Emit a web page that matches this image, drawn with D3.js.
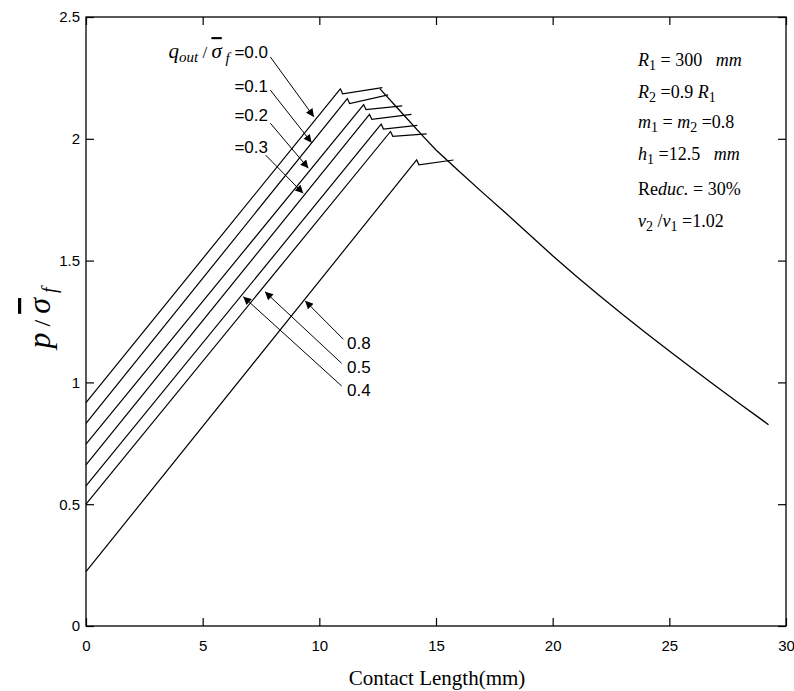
<!DOCTYPE html>
<html><head><meta charset="utf-8">
<script src="https://cdn.jsdelivr.net/npm/d3@7"></script>
<style>
html,body{margin:0;padding:0;background:#fff;}
svg{display:block;}
</style></head>
<body>
<svg id="c" width="794" height="691"></svg>
<script>
// ---- data ----
const qLabels   = ["0.0","0.1","0.2","0.3","0.4","0.5","0.8"];
const startP    = [0.917, 0.832, 0.747, 0.661, 0.575, 0.500, 0.223];
const peakX     = [10.9, 11.2, 11.9, 12.15, 12.65, 13.05, 14.17];
const peakP     = [2.205, 2.165, 2.14, 2.10, 2.06, 2.03, 1.913];
const flatEndX  = [12.7, 12.95, 13.55, 13.95, 14.2, 14.6, 15.75];
const flatEndP  = [2.21, 2.18, 2.135, 2.10, 2.055, 2.02, 1.913];
const descX = [12.6, 13.5, 14.5, 15, 16, 17, 18, 19, 20, 21, 22, 23, 24, 25, 26, 27, 28, 29, 29.25];
const descP = [2.205, 2.11, 2.005, 1.954, 1.866, 1.779, 1.694, 1.607, 1.52, 1.437, 1.357, 1.279, 1.203, 1.129, 1.056, 0.984, 0.913, 0.844, 0.826];
const xTicks = [0,5,10,15,20,25,30];
const xTickLabels = ["0","5","10","15","20","25","30"];
const yTicks = [0,0.5,1,1.5,2,2.5];
const yTickLabels = ["0","0.5","1","1.5","2","2.5"];
// annotation arrows (data coords): label, from, to
const arrowLabel = ["0.0","0.1","0.2","0.3","0.8","0.5","0.4"];
const arrowFromX = [7.9, 7.9, 7.9, 7.7, 11.03, 10.96, 10.96];
const arrowFromY = [2.336, 2.2, 2.064, 1.933, 1.177, 1.078, 0.985];
const arrowToX   = [9.77, 9.67, 9.53, 9.31, 9.39, 7.67, 6.74];
const arrowToY   = [2.09, 1.984, 1.879, 1.776, 1.335, 1.372, 1.352];
const topLabelY  = [2.356, 2.217, 2.098, 1.966];
const botLabelY  = [1.162, 1.063, 0.969];

// ---- layout ----
const svg = d3.select("#c");
const x = d3.scaleLinear([0,30],[86,786]);
const y = d3.scaleLinear([0,2.5],[626,17]);
const sans = "Arial, 'Liberation Sans', sans-serif";
const serif = "'Times New Roman', 'Liberation Serif', serif";

// axes
const gx = svg.append("g").attr("transform","translate(0,626)")
  .call(d3.axisBottom(x).tickValues(xTicks).tickFormat((d,i)=>xTickLabels[i]).tickSizeInner(-8).tickSizeOuter(0).tickPadding(14));
const gy = svg.append("g").attr("transform","translate(86,0)")
  .call(d3.axisLeft(y).tickValues(yTicks).tickFormat((d,i)=>yTickLabels[i]).tickSizeInner(-8).tickSizeOuter(0).tickPadding(6));
const gt = svg.append("g").attr("transform","translate(0,17)")
  .call(d3.axisTop(x).tickValues(xTicks).tickFormat("").tickSizeInner(-8).tickSizeOuter(0));
const gr = svg.append("g").attr("transform","translate(786,0)")
  .call(d3.axisRight(y).tickValues(yTicks).tickFormat("").tickSizeInner(-8).tickSizeOuter(0));
[gx,gy,gt,gr].forEach(g=>{
  g.selectAll(".domain").remove();
  g.selectAll("line").attr("stroke","#000").attr("stroke-width",1.2);
  g.selectAll("text").attr("font-family",sans).attr("font-size",15).attr("fill","#000");
});
svg.append("rect").attr("x",86).attr("y",17).attr("width",700).attr("height",609)
  .attr("fill","none").attr("stroke","#000").attr("stroke-width",1.3);

// axis titles
svg.append("text").attr("x",437).attr("y",685).attr("text-anchor","middle")
  .attr("font-family",serif).attr("font-size",21).text("Contact Length(mm)");
const yl = svg.append("text").attr("transform","translate(50,318) rotate(-90)")
  .attr("text-anchor","middle").attr("font-family",serif).attr("font-size",32);
yl.append("tspan").attr("font-style","italic").text("p");
yl.append("tspan").attr("font-size",24).text(" / ");
yl.append("tspan").attr("font-style","italic").style("text-decoration","overline").text("σ");
yl.append("tspan").attr("font-style","italic").attr("font-size",20).attr("dy",6).text(" f");

// curves
const line = d3.line().x(d=>x(d[0])).y(d=>y(d[1]));
const plot = svg.append("g");
qLabels.forEach((q,i)=>{
  const pts = [[0,startP[i]],[peakX[i],peakP[i]],[peakX[i]+0.1,peakP[i]-0.02],[flatEndX[i],flatEndP[i]]];
  plot.append("path").attr("d",line(pts)).attr("fill","none").attr("stroke","#000").attr("stroke-width",1.2);
});
plot.append("path").attr("d",line(descX.map((d,i)=>[d,descP[i]])))
  .attr("fill","none").attr("stroke","#000").attr("stroke-width",1.3);

// arrows
svg.append("defs").append("marker").attr("id","ah").attr("viewBox","0 0 10 10")
  .attr("refX",10).attr("refY",5).attr("markerWidth",13).attr("markerHeight",8)
  .attr("markerUnits","userSpaceOnUse").attr("orient","auto")
  .append("path").attr("d","M0,0L10,5L0,10Z").attr("fill","#000");
arrowLabel.forEach((a,i)=>{
  svg.append("line").attr("x1",x(arrowFromX[i])).attr("y1",y(arrowFromY[i]))
    .attr("x2",x(arrowToX[i])).attr("y2",y(arrowToY[i]))
    .attr("stroke","#000").attr("stroke-width",1).attr("marker-end","url(#ah)");
});

// top labels
const t0 = svg.append("text").attr("x",x(7.8)).attr("y",y(topLabelY[0])+6).attr("text-anchor","end");
t0.append("tspan").attr("font-family",serif).attr("font-style","italic").attr("font-size",21).text("q");
t0.append("tspan").attr("font-family",serif).attr("font-style","italic").attr("font-size",15).attr("dy",4).text("out");
t0.append("tspan").attr("font-family",serif).attr("font-size",17).attr("dy",-4).text(" / ");
t0.append("tspan").attr("font-family",serif).attr("font-style","italic").attr("font-size",21).style("text-decoration","overline").text("σ");
t0.append("tspan").attr("font-family",serif).attr("font-style","italic").attr("font-size",15).attr("dy",5).text(" f");
t0.append("tspan").attr("font-family",sans).attr("font-size",17).attr("dy",-5).text(" =" + qLabels[0]);
[1,2,3].forEach(k=>{
  svg.append("text").attr("x",x(7.8)).attr("y",y(topLabelY[k])+6).attr("text-anchor","end")
    .attr("font-family",sans).attr("font-size",17).text("=" + qLabels[k]);
});
["0.8","0.5","0.4"].forEach((l,k)=>{
  svg.append("text").attr("x",x(11.19)).attr("y",y(botLabelY[k])+6)
    .attr("font-family",sans).attr("font-size",17).text(l);
});

// parameter block
const params = [
  [["R",1],["1",2],[" = 300   ",0],["mm",1]],
  [["R",1],["2",2],[" =0.9 ",0],["R",1],["1",2]],
  [["m",1],["1",2],[" = ",0],["m",1],["2",2],[" =0.8",0]],
  [["h",1],["1",2],[" =12.5   ",0],["mm",1]],
  [["Re",0],["duc.",1],[" = 30%",0]],
  [["v",1],["2",2],[" /",0],["v",1],["1",2],[" =1.02",0]]
];
const paramY = [66, 98, 128, 160, 195, 227];
params.forEach((parts,i)=>{
  const t = svg.append("text").attr("x",638).attr("y",paramY[i]).attr("font-family",serif).attr("font-size",18)
    .attr("xml:space","preserve").style("white-space","pre");
  let sub=false;
  parts.forEach(p=>{
    const s = t.append("tspan").text(p[0]);
    if(p[1]===1) s.attr("font-style","italic");
    if(p[1]===2){ s.attr("font-size",14); if(!sub){s.attr("dy",4); sub=true;} }
    else if(sub){ s.attr("dy",-4); sub=false; }
  });
});
</script>
</body></html>
